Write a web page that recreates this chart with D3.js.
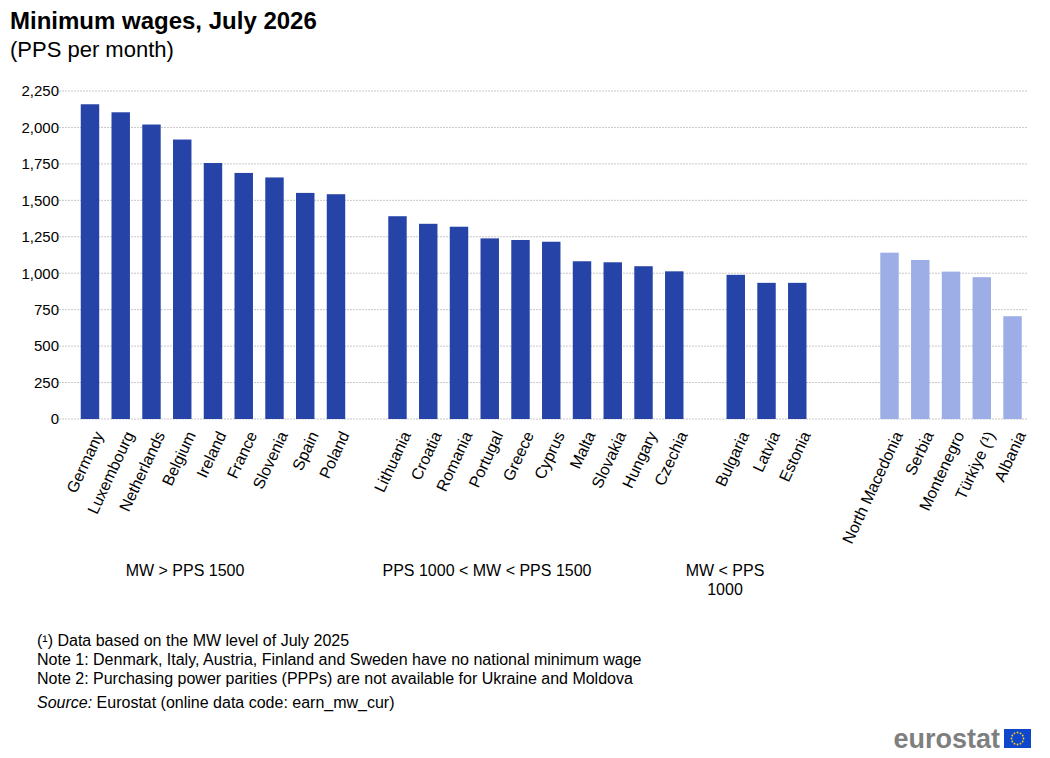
<!DOCTYPE html>
<html><head><meta charset="utf-8">
<script src="https://cdn.jsdelivr.net/npm/d3@7"></script>
<style>
body{margin:0;background:#fff;font-family:"Liberation Sans",Arial,sans-serif;}
</style></head>
<body><svg id="chart" width="1050" height="758"></svg>
<script>
  // slots, "" = empty gap between groups
  var countries = ["Germany","Luxembourg","Netherlands","Belgium","Ireland","France","Slovenia","Spain","Poland","",
    "Lithuania","Croatia","Romania","Portugal","Greece","Cyprus","Malta","Slovakia","Hungary","Czechia","",
    "Bulgaria","Latvia","Estonia","","","North Macedonia","Serbia","Montenegro","Türkiye (¹)","Albania"]
  var values = [2159,2104,2020,1917,1756,1688,1657,1551,1542,null,
    1391,1339,1319,1239,1228,1216,1082,1075,1048,1013,null,
    989,934,934,null,null,1141,1091,1011,973,705]
  var candidates = ["North Macedonia","Serbia","Montenegro","Türkiye (¹)","Albania"]
  var yTicks = [0,250,500,750,1000,1250,1500,1750,2000,2250]
  var groupLabels = [
    {lines:["MW > PPS 1500"], x:185},
    {lines:["PPS 1000 < MW < PPS 1500"], x:487},
    {lines:["MW < PPS","1000"], x:725}
  ]

  var svg = d3.select("#chart")
  var slots = countries.map((c, i) => c || ("gap" + i))

  var x = d3.scaleBand().domain(slots).range([74.6, 1027.9]).paddingInner(0.4).paddingOuter(0.2)
  var y = d3.scaleLinear().domain([0, 2250]).range([419, 91])

  svg.append("text").attr("x", 10).attr("y", 29).attr("font-size", 24).attr("font-weight", "bold").text("Minimum wages, July 2026")
  svg.append("text").attr("x", 10).attr("y", 57).attr("font-size", 22).text("(PPS per month)")

  // gridlines
  svg.append("g").selectAll("line").data(yTicks).join("line")
    .attr("x1", 56).attr("x2", 1028)
    .attr("y1", d => y(d)).attr("y2", d => y(d))
    .attr("stroke", "#c8c8c8").attr("stroke-dasharray", "2,1")

  var yAxis = svg.append("g").attr("transform", "translate(62,0)")
    .call(d3.axisLeft(y).tickValues(yTicks).tickSize(0).tickFormat(d3.format(",")))
  yAxis.select(".domain").remove()
  yAxis.selectAll("text").attr("font-size", 15).attr("fill", "#000").attr("font-family", "Liberation Sans, Arial")

  svg.append("g").selectAll("rect").data(countries.map((c, i) => ({c: c, s: slots[i], v: values[i]})).filter(d => d.v != null))
    .join("rect")
    .attr("x", d => x(d.s)).attr("width", x.bandwidth())
    .attr("y", d => y(d.v)).attr("height", d => y(0) - y(d.v))
    .attr("fill", d => candidates.includes(d.c) ? "#9daee6" : "#2644a7")

  var xAxis = svg.append("g").attr("transform", "translate(0,419)")
    .call(d3.axisBottom(x).tickSize(0).tickFormat(d => d.startsWith("gap") ? "" : d))
  xAxis.select(".domain").remove()
  xAxis.selectAll("text").attr("font-size", 16).attr("fill", "#000").attr("font-family", "Liberation Sans, Arial")
    .attr("text-anchor", "end").attr("dy", "0.35em")
    .attr("transform", "translate(6,12) rotate(-65)")

  groupLabels.forEach(g => {
    g.lines.forEach((l, i) => {
      svg.append("text").attr("x", g.x).attr("y", 576 + i * 19).attr("text-anchor", "middle").attr("font-size", 16).text(l)
    })
  })

  var notes = ["(¹) Data based on the MW level of July 2025",
    "Note 1: Denmark, Italy, Austria, Finland and Sweden have no national minimum wage",
    "Note 2: Purchasing power parities (PPPs) are not available for Ukraine and Moldova"]
  notes.forEach((n, i) => {
    svg.append("text").attr("x", 37).attr("y", 646 + i * 19).attr("font-size", 16).text(n)
  })
  var src = svg.append("text").attr("x", 37).attr("y", 708).attr("font-size", 16)
  src.append("tspan").attr("font-style", "italic").text("Source:")
  src.append("tspan").text(" Eurostat (online data code: earn_mw_cur)")

  // logo
  svg.append("text").attr("x", 1000).attr("y", 748).attr("text-anchor", "end").attr("font-size", 27)
    .attr("font-weight", "bold").attr("fill", "#7f7f7f").text("eurostat")
  svg.append("rect").attr("x", 1004).attr("y", 729).attr("width", 27).attr("height", 19).attr("fill", "#0e47cb")
  d3.range(12).forEach(i => {
    var a = i / 12 * 2 * Math.PI
    svg.append("circle").attr("cx", 1017.5 + 6 * Math.cos(a)).attr("cy", 738.5 + 6 * Math.sin(a)).attr("r", 0.9).attr("fill", "#ffd617")
  })
</script></body></html>
